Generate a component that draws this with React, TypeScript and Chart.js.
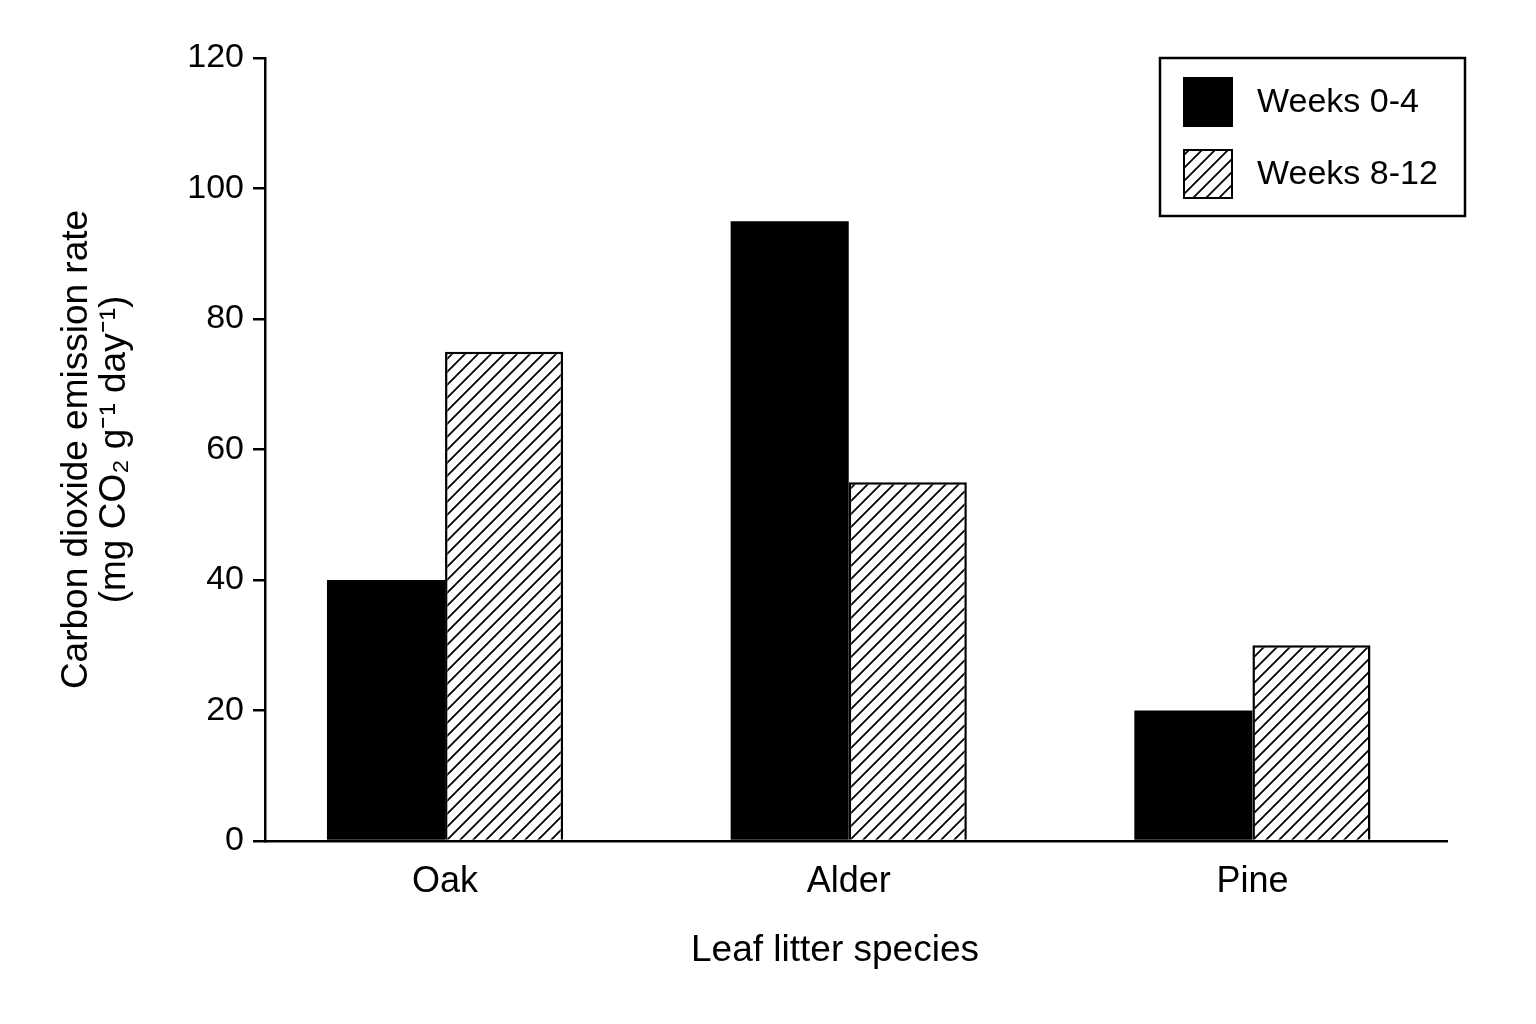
import { useEffect, useRef } from 'react';
import { Chart, registerables } from 'chart.js';

Chart.register(...registerables);

const SPECIES = ['Oak', 'Alder', 'Pine'];
const SERIES_LABELS = ['Weeks 0-4', 'Weeks 8-12'];
const WEEKS_0_4 = [40, 95, 20];
const WEEKS_8_12 = [75, 55, 30];
const Y_TICKS = [0, 20, 40, 60, 80, 100, 120];
const X_TITLE = 'Leaf litter species';
const Y_TITLE = ['Carbon dioxide emission rate', '(mg CO₂ g⁻¹ day⁻¹)'];

const FONT = "'Liberation Sans', Arial, Helvetica, sans-serif";

// diagonal "/" hatch used for the second series
function makeHatch(): CanvasPattern | string {
  const size = 13;
  const c = document.createElement('canvas');
  c.width = size;
  c.height = size;
  const g = c.getContext('2d');
  if (!g) return '#fff';
  g.fillStyle = '#fff';
  g.fillRect(0, 0, size, size);
  g.strokeStyle = '#000';
  g.lineWidth = 1.8;
  g.beginPath();
  g.moveTo(-2, size + 2);
  g.lineTo(size + 2, -2);
  g.moveTo(-2, 2);
  g.lineTo(2, -2);
  g.moveTo(size - 2, size + 2);
  g.lineTo(size + 2, size - 2);
  g.stroke();
  return g.createPattern(c, 'repeat') || '#fff';
}

// boxed legend in the top right corner, plus the x title (sits a bit left of centre)
const extras = {
  id: 'extras',
  afterDraw(chart: Chart) {
    const { ctx } = chart;
    ctx.save();
    ctx.lineWidth = 2.5;
    ctx.strokeStyle = '#000';
    ctx.strokeRect(1160, 58, 305, 158);
    ctx.font = `34px ${FONT}`;
    ctx.textBaseline = 'middle';
    chart.data.datasets.forEach((ds, i) => {
      const y = 78 + i * 72;
      ctx.fillStyle = ds.backgroundColor as any;
      ctx.fillRect(1184, y, 48, 48);
      ctx.lineWidth = 2;
      ctx.strokeRect(1184, y, 48, 48);
      ctx.fillStyle = '#000';
      ctx.fillText(String(ds.label), 1257, y + 25);
    });

    ctx.font = `37px ${FONT}`;
    ctx.textAlign = 'center';
    ctx.fillText(X_TITLE, 835, 951);
    ctx.restore();
  },
};

export default function App() {
  const canvasRef = useRef<HTMLCanvasElement>(null);

  useEffect(() => {
    document.body.style.margin = '0';
    if (!canvasRef.current) return;

    const chart = new Chart(canvasRef.current, {
      type: 'bar',
      data: {
        datasets: [
          {
            label: SERIES_LABELS[0],
            data: WEEKS_0_4.map((y, i) => ({ x: i, y })),
            backgroundColor: '#000',
            borderColor: '#000',
            borderWidth: 0,
          },
          {
            label: SERIES_LABELS[1],
            data: WEEKS_8_12.map((y, i) => ({ x: i, y })),
            backgroundColor: makeHatch() as any,
            borderColor: '#000',
            borderWidth: 2.5,
          },
        ],
      },
      options: {
        animation: false,
        responsive: false,
        layout: { padding: { left: 0, right: 89, top: 58, bottom: 0 } },
        datasets: { bar: { categoryPercentage: 0.585, barPercentage: 1 } },
        plugins: {
          legend: { display: false },
          tooltip: { enabled: false },
        },
        scales: {
          x: {
            type: 'linear',
            min: -0.446,
            max: 2.482,
            offset: false,
            afterBuildTicks: (axis: any) => {
              axis.ticks = SPECIES.map((_, i) => ({ value: i }));
            },
            afterFit: (s: any) => {
              s.height = 183;
            },
            ticks: {
              callback: (v: any) => SPECIES[Math.round(Number(v))] ?? '',
              font: { family: FONT, size: 36, lineHeight: 1.15 },
              color: '#000',
              padding: 20,
              maxRotation: 0,
              autoSkip: false,
            },
            grid: { display: false, drawTicks: false },
            border: { display: true, color: '#000', width: 2.5 },
            title: { display: false },
          },
          y: {
            min: 0,
            max: 120,
            afterBuildTicks: (axis: any) => {
              axis.ticks = Y_TICKS.map((value) => ({ value }));
            },
            afterFit: (s: any) => {
              s.width = 265;
            },
            ticks: {
              font: { family: FONT, size: 34, lineHeight: 1.15 },
              color: '#000',
              padding: 9,
            },
            grid: {
              display: true,
              drawOnChartArea: false,
              drawTicks: true,
              tickLength: 12,
              color: '#000',
              lineWidth: 2.5,
            },
            border: { display: true, color: '#000', width: 2.5 },
            title: {
              display: true,
              text: Y_TITLE,
              font: { family: FONT, size: 37, lineHeight: 1.05 },
              color: '#000',
              padding: { top: 57, bottom: 0 },
            },
          },
        },
      },
      plugins: [extras],
    });

    return () => chart.destroy();
  }, []);

  return (
    <div style={{ width: 1536, height: 1024, background: '#fff' }}>
      <canvas ref={canvasRef} width={1536} height={1024} />
    </div>
  );
}
